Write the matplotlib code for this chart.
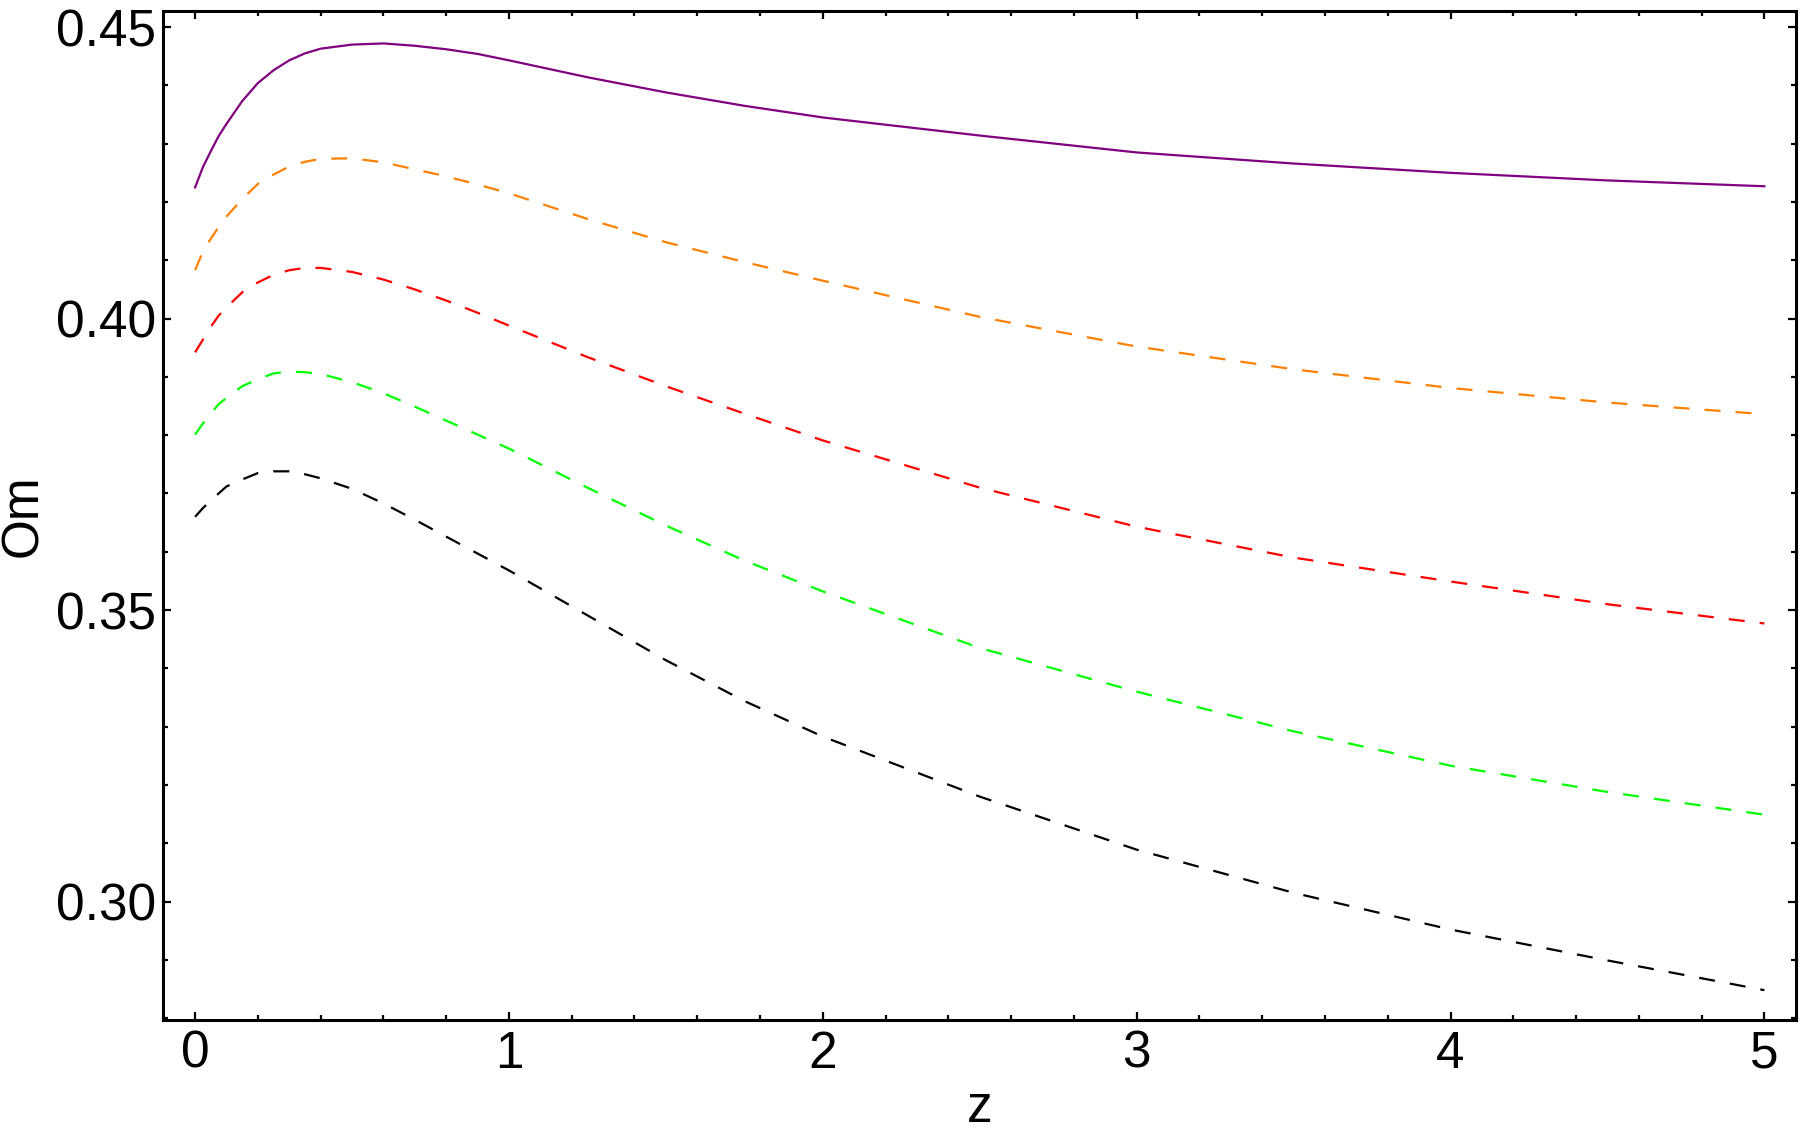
import matplotlib
matplotlib.use("Agg")
import matplotlib.pyplot as plt
from matplotlib.ticker import MultipleLocator, FormatStrFormatter

# values
z = [0, 0.025, 0.05, 0.075, 0.1, 0.15, 0.2, 0.25, 0.3, 0.35, 0.4, 0.5, 0.6,
     0.7, 0.8, 0.9, 1.0, 1.25, 1.5, 1.75, 2.0, 2.5, 3.0, 3.5, 4.0, 4.5, 5.0]

om_purple = [0.4225, 0.4260, 0.4287, 0.4313, 0.4334, 0.4373, 0.4404, 0.4426,
             0.4443, 0.4455, 0.4463, 0.4470, 0.4472, 0.4468, 0.4462, 0.4454,
             0.4443, 0.4414, 0.4388, 0.4365, 0.4345, 0.4314, 0.4285, 0.4266,
             0.4250, 0.4237, 0.4227]
om_orange = [0.4083, 0.4115, 0.4137, 0.4157, 0.4175, 0.4205, 0.4231, 0.4247,
             0.4261, 0.4269, 0.4274, 0.4275, 0.4268, 0.4256, 0.4244, 0.4230,
             0.4215, 0.4171, 0.4131, 0.4097, 0.4065, 0.4003, 0.3952, 0.3913,
             0.3881, 0.3856, 0.3836]
om_red = [0.3942, 0.3964, 0.3986, 0.4005, 0.4019, 0.4045, 0.4062, 0.4075,
          0.4083, 0.4087, 0.4087, 0.4080, 0.4067, 0.4050, 0.4031, 0.4010,
          0.3988, 0.3934, 0.3884, 0.3837, 0.3791, 0.3710, 0.3643, 0.3590,
          0.3549, 0.3510, 0.3477]
om_green = [0.3801, 0.3820, 0.3837, 0.3853, 0.3864, 0.3884, 0.3896, 0.3906,
            0.3909, 0.3908, 0.3905, 0.3891, 0.3872, 0.3849, 0.3825, 0.3801,
            0.3777, 0.3710, 0.3645, 0.3585, 0.3532, 0.3435, 0.3360, 0.3292,
            0.3233, 0.3188, 0.3149]
om_black = [0.3660, 0.3675, 0.3688, 0.3700, 0.3712, 0.3724, 0.3735, 0.3738,
            0.3738, 0.3733, 0.3726, 0.3708, 0.3683, 0.3655, 0.3626, 0.3597,
            0.3568, 0.3491, 0.3414, 0.3344, 0.3283, 0.3180, 0.3089, 0.3015,
            0.2952, 0.2899, 0.2848]

plt.rcParams['font.family'] = ['Liberation Sans', 'DejaVu Sans']

fig = plt.figure(figsize=(18, 11.37), dpi=100)
ax = fig.add_axes([0.0906, 0.103, 0.9074, 0.887])

lw = 1.6
dash = (7.2, 6.8)
ax.plot(z, om_purple, color="#800080", linewidth=lw)
ax.plot(z, om_orange, color="#FF8000", linewidth=lw, dashes=dash)
ax.plot(z, om_red, color="#FF0000", linewidth=lw, dashes=dash)
ax.plot(z, om_green, color="#00FF00", linewidth=lw, dashes=dash)
ax.plot(z, om_black, color="black", linewidth=lw, dashes=dash)

ax.set_xlim(-0.102, 5.102)
ax.set_ylim(0.2797, 0.4527)

ax.xaxis.set_major_locator(MultipleLocator(1))
ax.xaxis.set_minor_locator(MultipleLocator(0.2))
ax.yaxis.set_major_locator(MultipleLocator(0.05))
ax.yaxis.set_minor_locator(MultipleLocator(0.01))
ax.yaxis.set_major_formatter(FormatStrFormatter("%.2f"))

ax.tick_params(which="both", direction="in", top=True, right=True,
               width=1.6, labelsize=37)
ax.tick_params(which="major", length=6)
ax.tick_params(which="minor", length=3.5)
ax.tick_params(axis="x", which="major", pad=7)
ax.tick_params(axis="y", which="major", pad=5)

for s in ax.spines.values():
    s.set_linewidth(2.2)

ax.set_xlabel("z", fontsize=37, labelpad=4)
ax.set_ylabel("Om", fontsize=37, labelpad=6)

fig.savefig("out.png", dpi=100)
